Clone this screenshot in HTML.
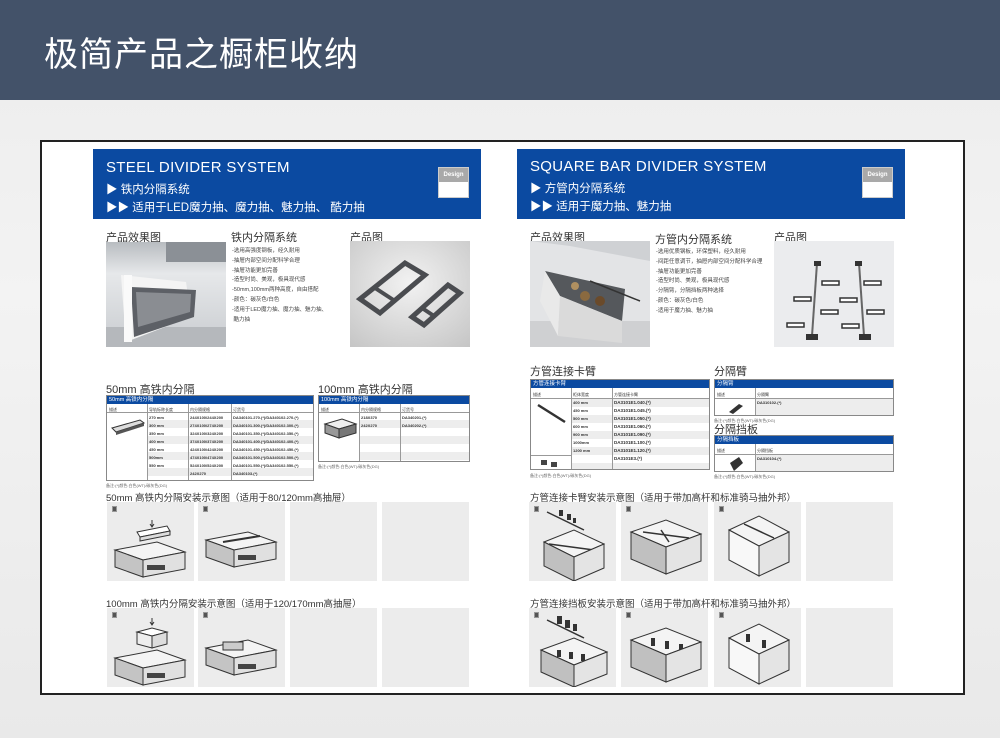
<!DOCTYPE html>
<html><head><meta charset="utf-8">
<style>
*{margin:0;padding:0;box-sizing:border-box}
body{width:1000px;height:738px;overflow:hidden;position:relative;font-family:"Liberation Sans","Noto Sans CJK SC",sans-serif;background:linear-gradient(180deg,#ececec 0%,#f3f3f3 40%,#e9e9e9 100%)}
.a{position:absolute}
.hdr{left:0;top:0;width:1000px;height:100px;background:#435269}
.ttl{left:44px;top:27px;color:#fff;font-size:34px;letter-spacing:1px;white-space:nowrap}
.frame{left:40px;top:140px;width:925px;height:555px;background:#fff;border:2px solid #222}
.blue{background:#0b4aa1;color:#fff}
.en{font-size:15px;letter-spacing:0.3px;white-space:nowrap}
.cn{font-size:11.5px;white-space:nowrap}
.badge{background:#fff;border:1px solid #ccc}
.badge div{background:#a9a9a9;color:#fff;font-size:6px;font-weight:bold;text-align:center;height:14px;line-height:14px}
.h{font-size:11px;color:#333;white-space:nowrap}
.h2{font-size:9.5px;color:#333;white-space:nowrap}
.li{font-size:5.5px;color:#444;line-height:9.8px;white-space:nowrap}
.tb{border:1px solid #888;background:#fff;overflow:hidden}
.tb .bh{background:#0b4aa1;color:#fff;font-size:5.5px;height:8px;line-height:8px;padding-left:2px}
.cell{position:absolute;font-size:4px;color:#333;white-space:nowrap}
.row{position:absolute;height:8px;background:#ededed}
.vl{position:absolute;width:1px;background:#999}
.pn{position:absolute;background:#ececec}
.note{font-size:4px;color:#666;white-space:nowrap}
.num{position:absolute;left:5px;top:4px;width:5px;height:6px;background:#555;border:1px solid #999}
</style></head><body>
<div class="a hdr"></div>
<div class="a ttl">极简产品之橱柜收纳</div>
<div class="a frame"></div>

<div class="a blue" style="left:93px;top:149px;width:388px;height:70px"></div>
<div class="a en" style="left:106px;top:159px;color:#fff">STEEL DIVIDER SYSTEM</div>
<div class="a cn" style="left:106px;top:181px;color:#fff">▶ 铁内分隔系统</div>
<div class="a cn" style="left:106px;top:199px;color:#fff">▶▶ 适用于LED魔力抽、魔力抽、魅力抽、 酷力抽</div>
<div class="a badge" style="left:438px;top:167px;width:31px;height:31px"><div>Design</div></div>

<div class="a blue" style="left:517px;top:149px;width:388px;height:70px"></div>
<div class="a en" style="left:530px;top:158px;color:#fff">SQUARE BAR DIVIDER SYSTEM</div>
<div class="a cn" style="left:530px;top:180px;color:#fff">▶ 方管内分隔系统</div>
<div class="a cn" style="left:530px;top:198px;color:#fff">▶▶ 适用于魔力抽、魅力抽</div>
<div class="a badge" style="left:862px;top:167px;width:31px;height:31px"><div>Design</div></div>

<div class="a h" style="left:106px;top:229px">产品效果图</div>
<div class="a h" style="left:231px;top:229px">铁内分隔系统</div>
<div class="a h" style="left:350px;top:229px">产品图</div>
<svg class="a" style="left:106px;top:242px" width="120" height="105">
<defs><linearGradient id="k1" x1="0" y1="0" x2="0" y2="1"><stop offset="0" stop-color="#b8bcc0"/><stop offset="0.3" stop-color="#e6e8ea"/><stop offset="1" stop-color="#c9ccd0"/></linearGradient></defs>
<rect width="120" height="105" fill="url(#k1)"/>
<rect x="60" y="0" width="60" height="20" fill="#8b9096"/>
<rect x="0" y="85" width="120" height="20" fill="#b5b8bc"/>
<polygon points="15,33 80,40 85,75 20,100" fill="#f4f4f4"/>
<polygon points="25,45 90,48 88,75 28,95" fill="#5d6066"/>
<polygon points="30,50 85,52 84,70 32,85" fill="#8a8d92"/>
<rect x="18" y="33" width="8" height="67" fill="#fafafa"/>
</svg>
<div class="a li" style="left:232px;top:247px">-选用高强度钢板，经久耐用<br>-抽屉内部空间分配科学合理<br>-抽屉功能更加完善<br>-造型时尚、美观，极具现代感<br>-50mm,100mm两种高度，自由搭配<br>-颜色：碳灰色/白色<br>-适用于LED魔力抽、魔力抽、魅力抽、<br>&nbsp;酷力抽</div>
<svg class="a" style="left:350px;top:241px" width="120" height="106">
<defs><radialGradient id="g1" cx="0.5" cy="0.4" r="0.8"><stop offset="0" stop-color="#f2f2f2"/><stop offset="1" stop-color="#c4c4c4"/></radialGradient></defs>
<rect width="120" height="106" fill="url(#g1)"/>
<polygon points="10,58 55,22 75,34 30,72" fill="none" stroke="#4a4c50" stroke-width="5"/>
<line x1="25" y1="47" x2="45" y2="60" stroke="#4a4c50" stroke-width="4"/>
<polygon points="62,76 98,44 110,52 74,84" fill="none" stroke="#4a4c50" stroke-width="5"/>
<line x1="72" y1="67" x2="84" y2="75" stroke="#4a4c50" stroke-width="4"/>
</svg>

<div class="a h" style="left:530px;top:229px">产品效果图</div>
<div class="a h" style="left:655px;top:231px">方管内分隔系统</div>
<div class="a h" style="left:774px;top:229px">产品图</div>
<svg class="a" style="left:530px;top:241px" width="120" height="106">
<rect width="120" height="106" fill="#e3e4e6"/>
<rect x="0" y="80" width="120" height="26" fill="#cfd0d2"/>
<polygon points="0,0 120,0 120,20 40,5" fill="#cfd1d4"/>
<polygon points="15,30 95,48 92,80 30,55" fill="#55585c"/>
<polygon points="15,30 30,55 28,95 10,60" fill="#e9e9e9"/>
<polygon points="30,55 92,80 92,102 28,95" fill="#dadada"/>
<circle cx="55" cy="55" r="5" fill="#8a6a40"/><circle cx="70" cy="60" r="5" fill="#6a4a2a"/><circle cx="45" cy="45" r="4" fill="#b09060"/>
<line x1="60" y1="40" x2="110" y2="60" stroke="#333" stroke-width="1.5"/>
</svg>
<div class="a li" style="left:656px;top:248px">-选用优质钢板，环保塑料，经久耐用<br>-间距任意调节，抽屉内部空间分配科学合理<br>-抽屉功能更加完善<br>-造型时尚、美观，极具现代感<br>-分隔臂，分隔挡板两种选择<br>-颜色：碳灰色/白色<br>-适用于魔力抽、魅力抽</div>
<svg class="a" style="left:774px;top:241px" width="120" height="106">
<rect width="120" height="106" fill="#ebecee"/>
<g stroke="#666" stroke-width="2"><line x1="43" y1="22" x2="38" y2="95"/><line x1="85" y1="22" x2="90" y2="95"/></g>
<g fill="#fff" stroke="#333" stroke-width="1.5">
<rect x="48" y="40" width="17" height="4"/><rect x="20" y="56" width="17" height="4"/><rect x="47" y="69" width="17" height="4"/><rect x="13" y="82" width="17" height="4"/>
<rect x="90" y="40" width="17" height="4"/><rect x="66" y="57" width="17" height="4"/><rect x="93" y="69" width="17" height="4"/><rect x="68" y="83" width="17" height="4"/>
</g>
<g fill="#333"><rect x="40" y="20" width="7" height="5"/><rect x="81" y="20" width="7" height="5"/><rect x="32" y="93" width="12" height="6"/><rect x="85" y="93" width="12" height="6"/></g>
</svg>

<div class="a h" style="left:106px;top:381px">50mm 高铁内分隔</div>
<div class="a tb" style="left:106px;top:395px;width:208px;height:86px">
 <div class="bh">50mm 高铁内分隔</div>
 <div class="cell" style="left:2px;top:11px">描述</div><div class="cell" style="left:42px;top:11px">导轨标称长度</div><div class="cell" style="left:83px;top:11px">内分隔规格</div><div class="cell" style="left:126px;top:11px">订货号</div>
 <div class="row" style="left:41px;top:24px;width:167px"></div>
 <div class="row" style="left:41px;top:40px;width:167px"></div>
 <div class="row" style="left:41px;top:56px;width:167px"></div>
 <div class="row" style="left:41px;top:72px;width:167px"></div>
 <div class="cell" style="left:42px;top:18px;font-weight:bold;line-height:8px">270 mm<br>300 mm<br>350 mm<br>400 mm<br>450 mm<br>500mm<br>550 mm</div>
 <div class="cell" style="left:83px;top:18px;font-weight:bold;line-height:8px">244X100/244X200<br>274X100/274X200<br>324X100/324X200<br>374X100/374X200<br>424X100/424X200<br>474X100/474X200<br>524X100/524X200<br>242X270</div>
 <div class="cell" style="left:126px;top:18px;font-weight:bold;line-height:8px">DA340101.270.(*)/DA340102.270.(*)<br>DA340101.300.(*)/DA340102.300.(*)<br>DA340101.350.(*)/DA340102.350.(*)<br>DA340101.400.(*)/DA340102.400.(*)<br>DA340101.450.(*)/DA340102.450.(*)<br>DA340101.500.(*)/DA340102.500.(*)<br>DA340101.550.(*)/DA340102.550.(*)<br>DA340103.(*)</div>
 <div class="vl" style="left:40px;top:8px;height:78px"></div><div class="vl" style="left:81px;top:8px;height:78px"></div><div class="vl" style="left:124px;top:8px;height:78px"></div>
 <div class="a" style="left:0;top:16px;width:208px;height:1px;background:#999"></div>
 <svg class="a" style="left:3px;top:20px" width="36" height="20"><polygon points="2,12 30,4 34,7 6,16" fill="#ddd" stroke="#333"/><polygon points="6,16 34,7 34,10 6,19" fill="#555"/></svg>
</div>
<div class="a note" style="left:106px;top:483px">备注:(*)颜色:白色(WT)/碳灰色(DG)</div>

<div class="a h" style="left:318px;top:381px">100mm 高铁内分隔</div>
<div class="a tb" style="left:318px;top:395px;width:152px;height:67px">
 <div class="bh">100mm 高铁内分隔</div>
 <div class="cell" style="left:2px;top:11px">描述</div><div class="cell" style="left:42px;top:11px">内分隔规格</div><div class="cell" style="left:83px;top:11px">订货号</div>
 <div class="row" style="left:41px;top:24px;width:111px"></div><div class="row" style="left:41px;top:40px;width:111px"></div><div class="row" style="left:41px;top:56px;width:111px"></div>
 <div class="cell" style="left:42px;top:18px;font-weight:bold;line-height:8px">218X370<br>242X270</div>
 <div class="cell" style="left:83px;top:18px;font-weight:bold;line-height:8px">DA340201.(*)<br>DA340202.(*)</div>
 <div class="vl" style="left:40px;top:8px;height:59px"></div><div class="vl" style="left:81px;top:8px;height:59px"></div>
 <div class="a" style="left:0;top:16px;width:152px;height:1px;background:#999"></div>
 <svg class="a" style="left:3px;top:20px" width="36" height="24"><polygon points="3,8 20,3 34,8 17,13" fill="#eee" stroke="#333"/><polygon points="3,8 17,13 17,22 3,17" fill="#999" stroke="#333"/><polygon points="17,13 34,8 34,17 17,22" fill="#777" stroke="#333"/></svg>
</div>
<div class="a note" style="left:318px;top:464px">备注:(*)颜色:白色(WT)/碳灰色(DG)</div>

<div class="a h" style="left:530px;top:363px">方管连接卡臂</div>
<div class="a tb" style="left:530px;top:379px;width:180px;height:91px">
 <div class="bh">方管连接卡臂</div>
 <div class="cell" style="left:2px;top:12px">描述</div><div class="cell" style="left:42px;top:12px">柜体宽度</div><div class="cell" style="left:83px;top:12px">方管连接卡臂</div>
 <div class="row" style="left:41px;top:19px;width:139px"></div><div class="row" style="left:41px;top:35px;width:139px"></div><div class="row" style="left:41px;top:51px;width:139px"></div><div class="row" style="left:41px;top:67px;width:139px"></div><div class="row" style="left:41px;top:83px;width:139px"></div>
 <div class="cell" style="left:42px;top:19px;font-weight:bold;line-height:8px">400 mm<br>450 mm<br>500 mm<br>600 mm<br>900 mm<br>1000mm<br>1200 mm</div>
 <div class="cell" style="left:83px;top:19px;font-weight:bold;line-height:8px;font-size:4.5px">DA3101E1.040.(*)<br>DA3101E1.045.(*)<br>DA3101E1.050.(*)<br>DA3101E1.060.(*)<br>DA3101E1.090.(*)<br>DA3101E1.100.(*)<br>DA3101E1.120.(*)<br>DA3101E3.(*)</div>
 <div class="vl" style="left:40px;top:8px;height:83px"></div><div class="vl" style="left:81px;top:8px;height:83px"></div>
 <div class="a" style="left:0;top:18px;width:180px;height:1px;background:#999"></div>
 <div class="a" style="left:0;top:75px;width:41px;height:1px;background:#999"></div>
 <svg class="a" style="left:4px;top:22px" width="34" height="66"><line x1="3" y1="3" x2="30" y2="20" stroke="#333" stroke-width="2.5"/><rect x="6" y="58" width="6" height="5" fill="#444"/><rect x="16" y="60" width="6" height="5" fill="#444"/></svg>
</div>
<div class="a note" style="left:530px;top:473px">备注:(*)颜色:白色(WT)/碳灰色(DG)</div>

<div class="a h" style="left:714px;top:363px">分隔臂</div>
<div class="a tb" style="left:714px;top:379px;width:180px;height:37px">
 <div class="bh">分隔臂</div>
 <div class="cell" style="left:2px;top:12px">描述</div><div class="cell" style="left:42px;top:12px">分隔臂</div>
 <div class="row" style="left:41px;top:19px;width:139px;height:18px"></div>
 <div class="cell" style="left:42px;top:20px;font-weight:bold">DA310102.(*)</div>
 <div class="vl" style="left:40px;top:8px;height:29px"></div>
 <div class="a" style="left:0;top:18px;width:180px;height:1px;background:#999"></div>
 <svg class="a" style="left:12px;top:20px" width="20" height="16"><polygon points="2,12 12,4 16,6 6,14" fill="#333"/></svg>
</div>
<div class="a note" style="left:714px;top:418px">备注:(*)颜色:白色(WT)/碳灰色(DG)</div>
<div class="a h" style="left:714px;top:421px">分隔挡板</div>
<div class="a tb" style="left:714px;top:435px;width:180px;height:37px">
 <div class="bh">分隔挡板</div>
 <div class="cell" style="left:2px;top:12px">描述</div><div class="cell" style="left:42px;top:12px">分隔挡板</div>
 <div class="row" style="left:41px;top:19px;width:139px;height:18px"></div>
 <div class="cell" style="left:42px;top:20px;font-weight:bold">DA310104.(*)</div>
 <div class="vl" style="left:40px;top:8px;height:29px"></div>
 <div class="a" style="left:0;top:18px;width:180px;height:1px;background:#999"></div>
 <svg class="a" style="left:12px;top:19px" width="20" height="18"><polygon points="3,8 12,2 16,8 7,16" fill="#333"/></svg>
</div>
<div class="a note" style="left:714px;top:474px">备注:(*)颜色:白色(WT)/碳灰色(DG)</div>

<div class="a h2" style="left:106px;top:490px">50mm 高铁内分隔安装示意图（适用于80/120mm高抽屉）</div>
<div class="a h2" style="left:106px;top:596px">100mm 高铁内分隔安装示意图（适用于120/170mm高抽屉）</div>
<div class="a h2" style="left:530px;top:490px">方管连接卡臂安装示意图（适用于带加高杆和标准骑马抽外邦）</div>
<div class="a h2" style="left:530px;top:596px">方管连接挡板安装示意图（适用于带加高杆和标准骑马抽外邦）</div>

<div class="pn" style="left:107px;top:502px;width:87px;height:79px"><div class="num"></div>
<svg width="87" height="79"><path d="M45 18 v6 M43 22 l2 3 2-3" stroke="#333" fill="none"/><polygon points="30,30 60,24 63,29 33,35" fill="#fff" stroke="#333"/><polygon points="33,35 63,29 63,33 33,39" fill="#ddd" stroke="#333"/>
<polygon points="8,48 50,40 78,50 36,58" fill="#f4f4f4" stroke="#333"/><polygon points="8,48 36,58 36,75 8,65" fill="#c4c4c4" stroke="#333"/><polygon points="36,58 78,50 78,67 36,75" fill="#e0e0e0" stroke="#333"/><rect x="40" y="63" width="18" height="5" fill="#444"/></svg></div>
<div class="pn" style="left:198px;top:502px;width:87px;height:79px"><div class="num"></div>
<svg width="87" height="79"><polygon points="8,38 50,30 78,40 36,48" fill="#f4f4f4" stroke="#333"/><line x1="25" y1="40" x2="62" y2="34" stroke="#333" stroke-width="2"/><polygon points="8,38 36,48 36,65 8,55" fill="#c4c4c4" stroke="#333"/><polygon points="36,48 78,40 78,57 36,65" fill="#e0e0e0" stroke="#333"/><rect x="40" y="53" width="18" height="5" fill="#444"/></svg></div>
<div class="pn" style="left:290px;top:502px;width:87px;height:79px"></div>
<div class="pn" style="left:382px;top:502px;width:87px;height:79px"></div>
<div class="pn" style="left:107px;top:608px;width:87px;height:79px"><div class="num"></div>
<svg width="87" height="79"><path d="M45 10 v6 M43 14 l2 3 2-3" stroke="#333" fill="none"/><polygon points="30,24 45,20 60,24 45,28" fill="#fff" stroke="#333"/><polygon points="30,24 45,28 45,40 30,36" fill="#eee" stroke="#333"/><polygon points="45,28 60,24 60,36 45,40" fill="#ddd" stroke="#333"/>
<polygon points="8,50 50,42 78,52 36,60" fill="#f4f4f4" stroke="#333"/><polygon points="8,50 36,60 36,77 8,67" fill="#c4c4c4" stroke="#333"/><polygon points="36,60 78,52 78,69 36,77" fill="#e0e0e0" stroke="#333"/><rect x="40" y="65" width="18" height="5" fill="#444"/></svg></div>
<div class="pn" style="left:198px;top:608px;width:87px;height:79px"><div class="num"></div>
<svg width="87" height="79"><polygon points="8,40 50,32 78,42 36,50" fill="#f4f4f4" stroke="#333"/><rect x="25" y="34" width="20" height="8" fill="#ccc" stroke="#333"/><polygon points="8,40 36,50 36,67 8,57" fill="#c4c4c4" stroke="#333"/><polygon points="36,50 78,42 78,59 36,67" fill="#e0e0e0" stroke="#333"/><rect x="40" y="56" width="18" height="5" fill="#444"/></svg></div>
<div class="pn" style="left:290px;top:608px;width:87px;height:79px"></div>
<div class="pn" style="left:382px;top:608px;width:87px;height:79px"></div>

<div class="pn" style="left:529px;top:502px;width:87px;height:79px"><div class="num"></div>
<svg width="87" height="79"><line x1="18" y1="10" x2="55" y2="28" stroke="#333" stroke-width="1.5"/><g fill="#333"><rect x="30" y="8" width="4" height="6"/><rect x="38" y="12" width="4" height="6"/><rect x="44" y="16" width="3" height="5"/></g>
<polygon points="15,40 45,28 75,42 45,55" fill="#f4f4f4" stroke="#333"/><line x1="20" y1="42" x2="65" y2="48" stroke="#333" stroke-width="1.5"/><polygon points="15,40 45,55 45,79 15,64" fill="#c0c0c0" stroke="#333"/><polygon points="45,55 75,42 75,66 45,79" fill="#e4e4e4" stroke="#333"/></svg></div>
<div class="pn" style="left:621px;top:502px;width:87px;height:79px"><div class="num"></div>
<svg width="87" height="79"><polygon points="10,30 45,18 80,32 45,45" fill="#f4f4f4" stroke="#333"/><line x1="22" y1="30" x2="68" y2="36" stroke="#333" stroke-width="1.5"/><line x1="40" y1="28" x2="48" y2="40" stroke="#333" stroke-width="1.5"/><polygon points="10,30 45,45 45,72 10,57" fill="#c0c0c0" stroke="#333"/><polygon points="45,45 80,32 80,59 45,72" fill="#e4e4e4" stroke="#333"/></svg></div>
<div class="pn" style="left:714px;top:502px;width:87px;height:79px"><div class="num"></div>
<svg width="87" height="79"><polygon points="15,28 45,14 75,30 45,44" fill="#f4f4f4" stroke="#333"/><line x1="30" y1="22" x2="60" y2="36" stroke="#333" stroke-width="1.5"/><polygon points="15,28 45,44 45,74 15,58" fill="#f8f8f8" stroke="#333"/><polygon points="45,44 75,30 75,60 45,74" fill="#e4e4e4" stroke="#333"/></svg></div>
<div class="pn" style="left:806px;top:502px;width:87px;height:79px"></div>

<div class="pn" style="left:529px;top:608px;width:87px;height:79px"><div class="num"></div>
<svg width="87" height="79"><line x1="18" y1="12" x2="55" y2="30" stroke="#333" stroke-width="1.5"/><g fill="#333"><rect x="28" y="8" width="5" height="8"/><rect x="36" y="12" width="5" height="8"/><rect x="44" y="16" width="4" height="7"/></g>
<polygon points="12,42 45,30 78,44 45,57" fill="#f4f4f4" stroke="#333"/><g fill="#333"><rect x="28" y="42" width="4" height="7"/><rect x="40" y="44" width="4" height="7"/><rect x="52" y="46" width="4" height="7"/></g><polygon points="12,42 45,57 45,79 12,64" fill="#c0c0c0" stroke="#333"/><polygon points="45,57 78,44 78,66 45,79" fill="#e4e4e4" stroke="#333"/></svg></div>
<div class="pn" style="left:621px;top:608px;width:87px;height:79px"><div class="num"></div>
<svg width="87" height="79"><polygon points="10,32 45,20 80,34 45,47" fill="#f4f4f4" stroke="#333"/><g fill="#333"><rect x="30" y="30" width="4" height="8"/><rect x="44" y="33" width="4" height="8"/><rect x="58" y="36" width="4" height="8"/></g><polygon points="10,32 45,47 45,74 10,59" fill="#c0c0c0" stroke="#333"/><polygon points="45,47 80,34 80,61 45,74" fill="#e4e4e4" stroke="#333"/></svg></div>
<div class="pn" style="left:714px;top:608px;width:87px;height:79px"><div class="num"></div>
<svg width="87" height="79"><polygon points="15,30 45,16 75,32 45,46" fill="#f4f4f4" stroke="#333"/><g fill="#333"><rect x="32" y="26" width="4" height="8"/><rect x="48" y="32" width="4" height="8"/></g><polygon points="15,30 45,46 45,76 15,60" fill="#f8f8f8" stroke="#333"/><polygon points="45,46 75,32 75,62 45,76" fill="#e4e4e4" stroke="#333"/></svg></div>
<div class="pn" style="left:806px;top:608px;width:87px;height:79px"></div>
</body></html>
